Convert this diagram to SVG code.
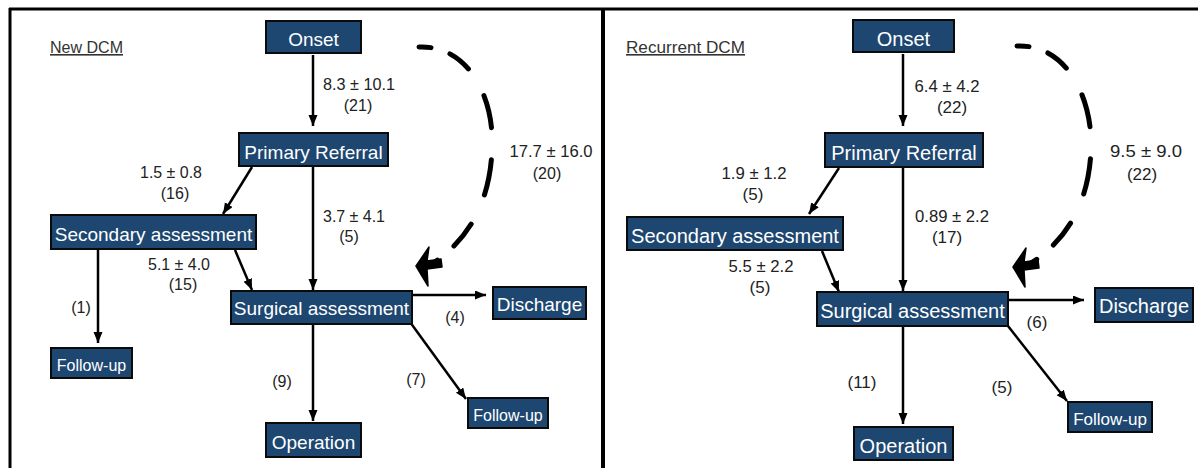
<svg xmlns="http://www.w3.org/2000/svg" width="1198" height="468" viewBox="0 0 1198 468">
<style>
.node{fill:#1d4670;stroke:#0a0a0a;stroke-width:2}
.nt{fill:#fff;font-family:"Liberation Sans",Arial,sans-serif;text-anchor:middle}
.lbl{fill:#222;font-family:"Liberation Sans",Arial,sans-serif;text-anchor:middle;font-size:16px}
.lbr{fill:#222;font-family:"Liberation Sans",Arial,sans-serif;text-anchor:middle;font-size:17px}
.ttl{fill:#333;font-family:"Liberation Sans",Arial,sans-serif;font-size:16px;text-decoration:underline}
.edge{stroke:#000;stroke-width:2.5;fill:none;marker-end:url(#ah)}
.dash{stroke:#000;stroke-width:5;fill:none;stroke-linecap:round}
.frame{stroke:#000;fill:none}
</style>
<defs>
<marker id="ah" markerUnits="userSpaceOnUse" markerWidth="12" markerHeight="10" refX="11" refY="4.5" orient="auto">
<path d="M0,0 L11,4.5 L0,9 z" fill="#000"/>
</marker>
<g id="bigarrow">
<path d="M0,0 L13,-19 L11,-5 L25,-7 L26,1 L11,3 L12,20 z" fill="#000" stroke="#000" stroke-width="1.5" stroke-linejoin="round"/>
</g>
</defs>
<rect width="1198" height="468" fill="#fff"/>
<g id="frame">
<line class="frame" x1="9" y1="9" x2="1198" y2="9" stroke-width="3"/>
<line class="frame" x1="10" y1="8" x2="10" y2="468" stroke-width="3"/>
<line class="frame" x1="603" y1="8" x2="603" y2="468" stroke-width="4"/>
</g>
<g id="connectors">
<line class="edge" x1="313" y1="55" x2="313" y2="126"/>
<line class="edge" x1="252" y1="167" x2="223" y2="214"/>
<line class="edge" x1="313" y1="167" x2="313" y2="290"/>
<line class="edge" x1="235" y1="250" x2="252" y2="290"/>
<line class="edge" x1="98" y1="250" x2="98" y2="343"/>
<line class="edge" x1="313" y1="325" x2="313" y2="421"/>
<line class="edge" x1="412" y1="295" x2="486" y2="295"/>
<line class="edge" x1="410" y1="322" x2="466" y2="399"/>
<path class="dash" d="M419,47 C470,45 495,100 492,150 C490,200 470,240 430,265" stroke-dasharray="12 20 24 31 33 32 36 32 28 22 30"/>
<use href="#bigarrow" x="416" y="266"/>
<line class="edge" x1="903" y1="54" x2="903" y2="126"/>
<line class="edge" x1="839" y1="168" x2="809" y2="214"/>
<line class="edge" x1="903" y1="168" x2="903" y2="291"/>
<line class="edge" x1="822" y1="251" x2="839" y2="292"/>
<line class="edge" x1="903" y1="327" x2="903" y2="424"/>
<line class="edge" x1="1008" y1="300" x2="1084" y2="300"/>
<line class="edge" x1="1008" y1="326" x2="1067" y2="401"/>
<path class="dash" d="M1017,46 C1068,44 1093,100 1091,150 C1089,200 1069,240 1028,265" stroke-dasharray="12 20 24 31 33 32 36 32 28 22 30"/>
<use href="#bigarrow" x="1013" y="267"/>
</g>
<g id="labels-left">
<text class="ttl" x="50" y="53" textLength="73" lengthAdjust="spacingAndGlyphs">New DCM</text>
<text class="lbl" x="359" y="90" textLength="72" lengthAdjust="spacingAndGlyphs">8.3 ± 10.1</text>
<text class="lbl" x="358" y="111">(21)</text>
<text class="lbl" x="171" y="178" textLength="62" lengthAdjust="spacingAndGlyphs">1.5 ± 0.8</text>
<text class="lbl" x="175" y="199">(16)</text>
<text class="lbl" x="354" y="222" textLength="62" lengthAdjust="spacingAndGlyphs">3.7 ± 4.1</text>
<text class="lbl" x="349" y="242">(5)</text>
<text class="lbl" x="179" y="270" textLength="62" lengthAdjust="spacingAndGlyphs">5.1 ± 4.0</text>
<text class="lbl" x="183" y="290">(15)</text>
<text class="lbl" x="81" y="313">(1)</text>
<text class="lbl" x="282" y="387">(9)</text>
<text class="lbl" x="416" y="385">(7)</text>
<text class="lbl" x="455" y="323">(4)</text>
<text class="lbl" x="551" y="157" textLength="83" lengthAdjust="spacingAndGlyphs">17.7 ± 16.0</text>
<text class="lbl" x="547" y="179">(20)</text>
</g>
<g id="labels-right">
<text class="ttl" x="626" y="53" textLength="119" lengthAdjust="spacingAndGlyphs">Recurrent DCM</text>
<text class="lbr" x="947" y="92" textLength="65" lengthAdjust="spacingAndGlyphs">6.4 ± 4.2</text>
<text class="lbr" x="952" y="113">(22)</text>
<text class="lbr" x="754" y="179" textLength="65" lengthAdjust="spacingAndGlyphs">1.9 ± 1.2</text>
<text class="lbr" x="753" y="200">(5)</text>
<text class="lbr" x="952" y="222" textLength="74" lengthAdjust="spacingAndGlyphs">0.89 ± 2.2</text>
<text class="lbr" x="947" y="243">(17)</text>
<text class="lbr" x="761" y="272" textLength="65" lengthAdjust="spacingAndGlyphs">5.5 ± 2.2</text>
<text class="lbr" x="760" y="293">(5)</text>
<text class="lbr" x="862" y="388">(11)</text>
<text class="lbr" x="1002" y="393">(5)</text>
<text class="lbr" x="1037" y="328">(6)</text>
<text class="lbr" x="1146" y="157" textLength="72" lengthAdjust="spacingAndGlyphs">9.5 ± 9.0</text>
<text class="lbr" x="1142" y="180">(22)</text>
</g>
<g id="L-onset"><rect class="node" x="266" y="21" width="95" height="32"/><text class="nt" x="313.5" y="46" font-size="19">Onset</text></g>
<g id="L-primary"><rect class="node" x="239" y="133" width="149" height="33"/><text class="nt" x="313.5" y="159" font-size="19">Primary Referral</text></g>
<g id="L-secondary"><rect class="node" x="51" y="215" width="205" height="34"/><text class="nt" x="153.5" y="241" font-size="19">Secondary assessment</text></g>
<g id="L-surgical"><rect class="node" x="231" y="291" width="181" height="33"/><text class="nt" x="321.5" y="315" font-size="19">Surgical assessment</text></g>
<g id="L-followup1"><rect class="node" x="51" y="348" width="81" height="30"/><text class="nt" x="91.5" y="371" font-size="16">Follow-up</text></g>
<g id="L-operation"><rect class="node" x="266" y="423" width="95" height="34"/><text class="nt" x="313.5" y="449" font-size="19">Operation</text></g>
<g id="L-discharge"><rect class="node" x="493" y="287" width="93" height="32"/><text class="nt" x="539.5" y="311" font-size="19">Discharge</text></g>
<g id="L-followup2"><rect class="node" x="468" y="398" width="80" height="30"/><text class="nt" x="508" y="421" font-size="16">Follow-up</text></g>
<g id="R-onset"><rect class="node" x="853" y="20" width="101" height="32"/><text class="nt" x="903.5" y="46" font-size="20">Onset</text></g>
<g id="R-primary"><rect class="node" x="825" y="133" width="158" height="34"/><text class="nt" x="904" y="160" font-size="20">Primary Referral</text></g>
<g id="R-secondary"><rect class="node" x="627" y="217" width="216" height="33"/><text class="nt" x="735" y="243" font-size="20">Secondary assessment</text></g>
<g id="R-surgical"><rect class="node" x="817" y="292" width="191" height="34"/><text class="nt" x="912.5" y="318" font-size="20">Surgical assessment</text></g>
<g id="R-operation"><rect class="node" x="854" y="427" width="99" height="33"/><text class="nt" x="903.5" y="453" font-size="20">Operation</text></g>
<g id="R-discharge"><rect class="node" x="1095" y="288" width="98" height="34"/><text class="nt" x="1144" y="313" font-size="20">Discharge</text></g>
<g id="R-followup"><rect class="node" x="1068" y="402" width="84" height="30"/><text class="nt" x="1110" y="425" font-size="17">Follow-up</text></g>
</svg>
